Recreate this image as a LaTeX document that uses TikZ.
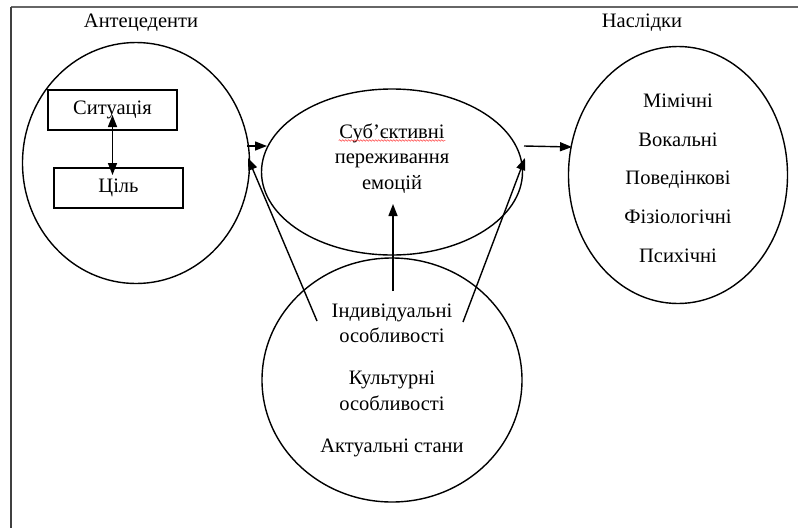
\documentclass[tikz,border=0pt]{standalone}
\usepackage{fontspec}
\setmainfont{Liberation Serif}
\usetikzlibrary{shapes.geometric,arrows.meta,decorations.pathmorphing}

\begin{document}
\begin{tikzpicture}[x=1pt,y=-1pt,line width=1.4pt,
	txt/.style={font=\fontsize{20.5}{24}\selectfont, anchor=base, inner sep=0pt},
	oval/.style={draw, ellipse, inner sep=0pt},
	box/.style={draw, rectangle, inner sep=0pt, font=\fontsize{20.5}{24}\selectfont},
	arr/.style={-{Triangle[length=12pt,width=9pt]}}]
	
	\useasboundingbox (0,0) rectangle (798,528);
	
	% ---- Frame ----
	\draw[line width=2.2pt, gray!80!black] (11,7) -- (798,7);
	\draw[line width=1.8pt, black!75] (11,7) -- (11,528);
	
	% ---- Headings ----
	\node[txt] (antehead) at (141,27) {Антецеденти};
	\node[txt] (conshead) at (642,27) {Наслідки};
	
	% ---- Ellipses ----
	\node[oval, minimum width=227pt, minimum height=241pt] (ante) at (136,163) {};
	\node[oval, minimum width=261pt, minimum height=166pt] (subj) at (392,172) {};
	\node[oval, minimum width=260pt, minimum height=244pt] (fact) at (392,380) {};
	\node[oval, minimum width=219pt, minimum height=257pt] (cons) at (678,175) {};
	
	% ---- Boxes in the left circle ----
	\node[box, minimum width=129pt, minimum height=40pt] (sit) at (112.5,110) {Ситуація};
	\node[box, minimum width=129pt, minimum height=40pt] (goal) at (118.5,188) {Ціль};
	
	% ---- Texts ----
	\foreach \y/\t [count=\i] in {138/Суб’єктивні, 163.5/переживання, 189/емоцій}
	\node[txt] (subj\i) at (392,\y) {\t};
	
	\foreach \y/\t [count=\i] in {317/Індивідуальні, 342/особливості, 384/Культурні, 410/особливості, 452/Актуальні стани}
	\node[txt] (fact\i) at (392,\y) {\t};
	
	\foreach \y/\t [count=\i] in {107/Мімічні, 146/Вокальні, 184/Поведінкові, 223/Фізіологічні, 262/Психічні}
	\node[txt] (cons\i) at (678,\y) {\t};
	
	% spell check mark
	\draw[red!80, line width=0.5pt, decorate, decoration={snake, amplitude=0.8pt, segment length=3pt}]
	([yshift=-2.5pt]subj1.base west) -- ([yshift=-2.5pt]subj1.base east);
	
	% ---- Arrow end points ----
	\coordinate (sitIn) at (112.5,115);
	\coordinate (goalIn) at (112.5,175);
	\coordinate (anteOut) at (247,146);
	\coordinate (subjInL) at (267,146);
	\coordinate (subjOut) at (524,146);
	\coordinate (consIn) at (572,147);
	\coordinate (factUp) at (393,291);
	\coordinate (subjBot) at (393,204);
	\coordinate (factL) at (317,321);
	\coordinate (anteIn) at (248,158);
	\coordinate (factR) at (463,322);
	\coordinate (subjInR) at (525,158);
	
	% ---- Arrows ----
	\draw[{Triangle[length=12pt,width=9pt]}-{Triangle[length=12pt,width=9pt]}] (sitIn) -- (goalIn);
	\draw[arr] (anteOut) -- (subjInL);
	\draw[arr] (subjOut) -- (consIn);
	\draw[arr] (factUp) -- (subjBot);
	\draw[arr] (factL) -- (anteIn);
	\draw[arr] (factR) -- (subjInR);
	
\end{tikzpicture}
\end{document}
